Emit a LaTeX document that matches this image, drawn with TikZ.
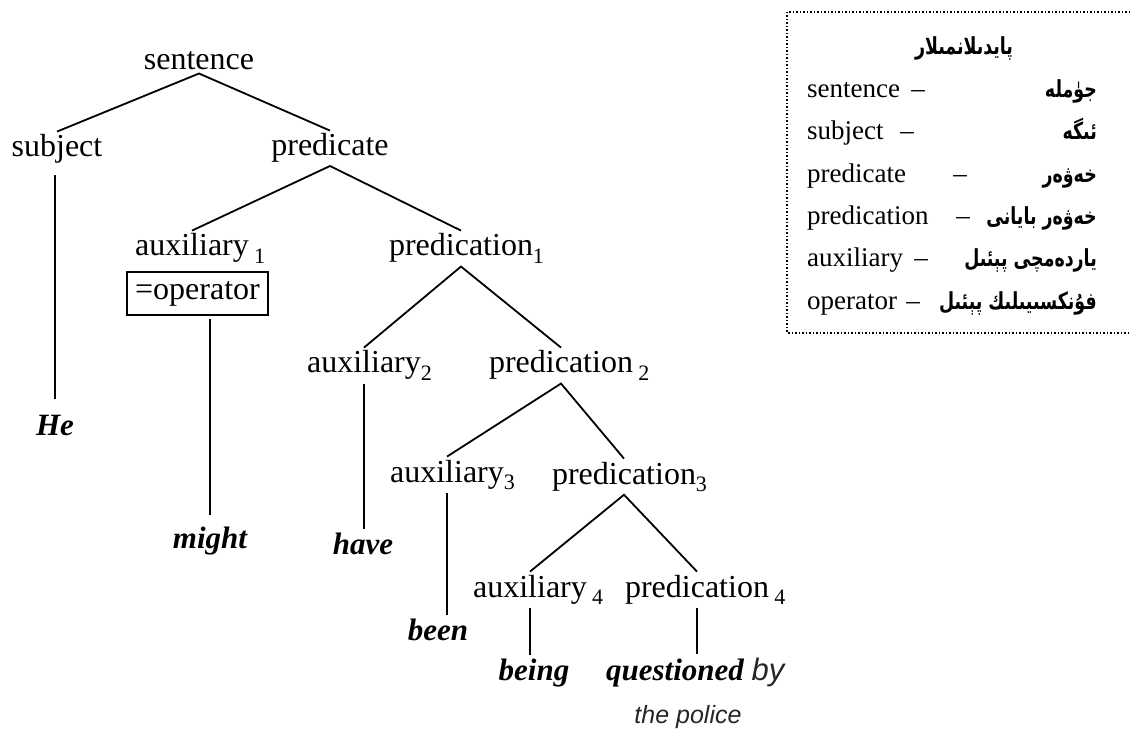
\documentclass[tikz,border=0pt]{standalone}
\usepackage{fontspec}
\setmainfont{Liberation Serif}
\newfontfamily\uyfont[Script=Arabic, FakeStretch=0.74]{DejaVu Sans}
\newfontfamily\thinfont{Liberation Sans}
\TeXXeTstate=1
\usetikzlibrary{positioning}
\newcommand{\idx}[1]{\rlap{\raisebox{-0.5ex}{\fontsize{22}{22}\selectfont #1}}}

\begin{document}
\begin{tikzpicture}[x=1pt, y=-1pt,
  word/.style={font=\fontsize{32}{36}\selectfont, inner xsep=4pt, inner ysep=3pt, anchor=base},
  leaf/.style={font=\fontsize{31}{36}\selectfont\bfseries\itshape, inner xsep=4pt, inner ysep=3pt, anchor=base},
  branch/.style={line width=1.8pt},
  stem/.style={line width=2.6pt},
  opbox/.style={draw, line width=2pt, font=\fontsize{32}{36}\selectfont, inner sep=0pt, minimum width=141pt, minimum height=43pt},
  entry/.style={font=\fontsize{27}{30}\selectfont, inner sep=0pt, anchor=base west},
  gloss/.style={font=\uyfont\fontsize{23.5}{26}\selectfont\bfseries, inner sep=0pt, anchor=base east}]
  \useasboundingbox (0,0) rectangle (1130,735);

  % Tree
  \node[word] (sentence) at (199,70) {sentence};
  \node[word] (subject) at (57,157) {subject};
  \node[word] (predicate) at (330,156) {predicate};
  \node[word] (aux1) at (192,256) {auxiliary\rlap{\,\idx{1}}};
  \node[opbox] (operator) at (197.5,293.5) {=operator};
  \node[word] (pred1) at (461,256) {predication\idx{1}};
  \node[word] (aux2) at (364,373) {auxiliary\idx{2}};
  \node[word] (pred2) at (561,373) {predication\rlap{\,\idx{2}}};
  \node[word] (aux3) at (447,482) {auxiliary\idx{3}};
  \node[word] (pred3) at (624,484) {predication\idx{3}};
  \node[word] (aux4) at (530,597) {auxiliary\rlap{\,\idx{4}}};
  \node[word] (pred4) at (697,597) {predication\rlap{\,\idx{4}}};

  \node[leaf] (he) at (55,435) {He};
  \node[leaf] (might) at (210,548) {might};
  \node[leaf] (have) at (363,554) {have};
  \node[leaf] (been) at (438,640) {been};
  \node[leaf] (being) at (534,680) {being};
  \node[leaf] (questioned) at (675,680) {questioned\rlap{ \mdseries\upshape\thinfont\itshape\color{black!85}by}};
  \node[word, font=\fontsize{25}{30}\selectfont\thinfont\itshape, text=black!85] (police) at (688,723) {the police};

  \draw[branch] (subject.north) -- (sentence.south) -- (predicate.north);
  \draw[branch] (aux1.north) -- (predicate.south) -- (pred1.north);
  \draw[branch] (aux2.north) -- (pred1.south) -- (pred2.north);
  \draw[branch] (aux3.north) -- (pred2.south) -- (pred3.north);
  \draw[branch] (aux4.north) -- (pred3.south) -- (pred4.north);

  \draw[stem, shorten <=8pt, shorten >=13pt] (he.north |- subject.south) -- (he.north);
  \draw[stem, shorten <=3pt, shorten >=8pt] (might.north |- operator.south) -- (might.north);
  \draw[stem] (aux2.south) -- (aux2.south |- have.north);
  \draw[stem] (aux3.south) -- (aux3.south |- been.north);
  \draw[stem] (aux4.south) -- (aux4.south |- being.north);
  \draw[stem] (pred4.south) -- (pred4.south |- questioned.north);

  % Glossary
  \draw[dotted, line width=1.5pt] (1130,12) -- (787,12) -- (787,333) -- (1130,333);
  \node[gloss, anchor=base] (title) at (964,55) {\beginR پايدىلانمىلار\endR};

  \node[entry] (en1) at (807,98) {sentence};
  \node[entry] (en2) at (807,140) {subject};
  \node[entry] (en3) at (807,183) {predicate};
  \node[entry] (en4) at (807,225) {predication};
  \node[entry] (en5) at (807,267) {auxiliary};
  \node[entry] (en6) at (807,310) {operator};

  \node[entry, anchor=base] (dash1) at (918,98) {--};
  \node[entry, anchor=base] (dash2) at (907,140) {--};
  \node[entry, anchor=base] (dash3) at (960,183) {--};
  \node[entry, anchor=base] (dash4) at (963,225) {--};
  \node[entry, anchor=base] (dash5) at (921,267) {--};
  \node[entry, anchor=base] (dash6) at (913,310) {--};

  \node[gloss] (uy1) at (1097,98) {\beginR جۈملە\endR};
  \node[gloss] (uy2) at (1097,140) {\beginR ئىگە\endR};
  \node[gloss] (uy3) at (1097,183) {\beginR خەۋەر\endR};
  \node[gloss] (uy4) at (1097,225) {\beginR خەۋەر بايانى\endR};
  \node[gloss] (uy5) at (1097,267) {\beginR ياردەمچى پېئىل\endR};
  \node[gloss] (uy6) at (1097,310) {\beginR فۇنكسىيىلىك پېئىل\endR};
\end{tikzpicture}
\end{document}
